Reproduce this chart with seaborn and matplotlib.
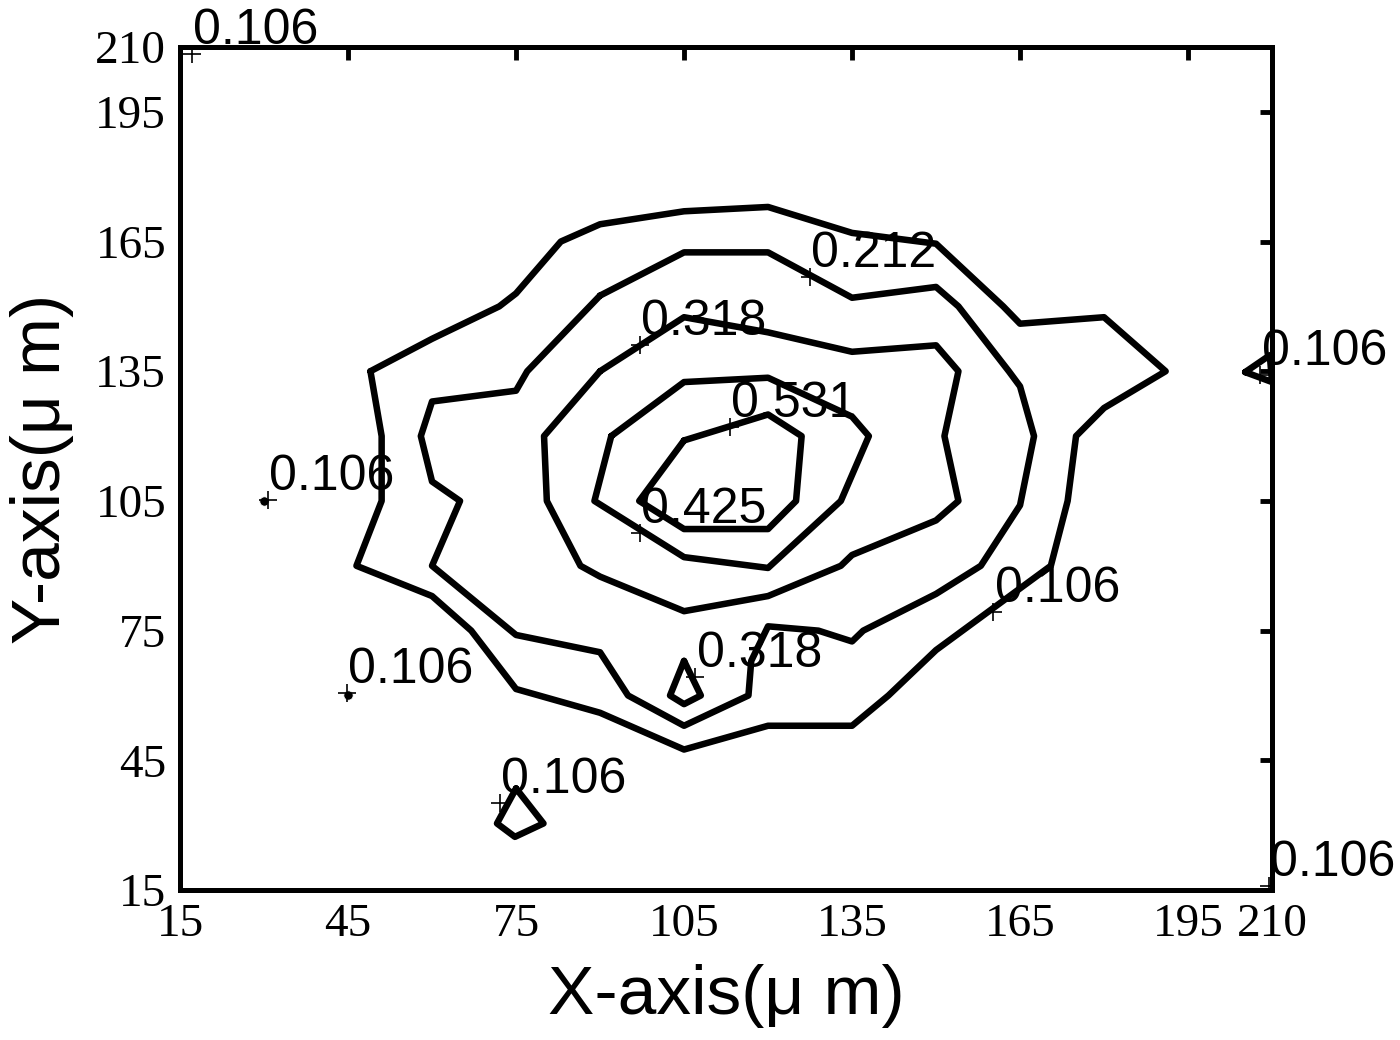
import numpy as np
import pandas as pd
import matplotlib
matplotlib.use("Agg")
import matplotlib.pyplot as plt
import seaborn as sns

# contour lines (data units, um)
# 0.106 - outer ring
outer_x = [49, 60, 72, 75, 83, 90, 105, 120, 135, 150, 162, 165, 180, 191, 180, 175,
           173.5, 170.5, 150, 141.5, 135, 120, 105, 90, 75, 67, 60, 46.5, 51, 51]
outer_y = [135, 142.5, 150, 153, 165, 169, 172, 173, 167, 164.5, 150, 146, 147.5, 135, 126.5, 120,
           105, 90, 70.5, 60, 53, 53, 47.5, 56, 61.5, 75, 83, 90, 105, 120]
# 0.212
c212_x = [90, 105, 120, 135, 150, 154, 163, 165, 167.5, 165, 158, 150, 137, 135, 129, 120,
          117, 116.5, 105, 95, 90, 75, 60, 65, 60, 58, 60, 75, 77]
c212_y = [152.5, 162.5, 162.5, 152, 154.5, 150, 135, 131.5, 120, 104, 90, 83.5, 75, 72.5, 75, 76,
          68, 60, 53, 60, 70, 74, 90, 105, 109.5, 120, 128, 130.5, 135]
# 0.318
c318_x = [90, 105, 120, 135, 150, 154, 151.5, 154, 150, 135, 133, 120, 105, 90, 86.5, 80.5, 80]
c318_y = [135, 147.5, 144, 139.5, 141, 135, 120, 105, 100.5, 92.5, 90, 83, 79.5, 87.5, 90, 105, 120]
# 0.425
c425_x = [92, 105, 120, 135, 138, 133, 120, 105, 89]
c425_y = [120, 132.5, 133.5, 124.5, 120, 105, 89.5, 92, 105]
# 0.531
c531_x = [105, 120, 126, 125, 120, 105, 97]
c531_y = [119, 125, 120, 105, 98.5, 98.5, 105]
# small islands
isl_low_x = [75, 71.6, 74.8, 79.9]          # 0.106
isl_low_y = [38.5, 30.4, 27.3, 30.4]
isl_mid_x = [105, 102.5, 105, 108]          # 0.318
isl_mid_y = [68, 60, 58, 60]
isl_right_x = [205.2, 209.6, 210]           # 0.106 at right edge
isl_right_y = [134.8, 138.7, 132.5]

# tiny spots (0.106)
dot_x = [30, 45]
dot_y = [105, 60]

# contour labels
lab_x = [127.5, 97.1, 113.2, 97.1, 160.2, 107, 72.1, 44.8, 30.7, 207.9, 17.1, 209.4]
lab_y = [156.8, 141.1, 122.1, 97.6, 79.3, 64.3, 35.1, 60.6, 105.2, 134.1, 208.4, 15.9]
lab_txt = ["0.212", "0.318", "0.531", "0.425", "0.106", "0.318", "0.106", "0.106",
           "0.106", "0.106", "0.106", "0.106"]

ticks = [15, 45, 75, 105, 135, 165, 195, 210]

sns.set_style("white", {"axes.edgecolor": "black", "text.color": "black",
                        "xtick.color": "black", "ytick.color": "black",
                        "axes.labelcolor": "black"})
plt.rcParams["font.family"] = ["Liberation Sans", "DejaVu Sans"]

rings = [(outer_x, outer_y), (c212_x, c212_y), (c318_x, c318_y), (c425_x, c425_y),
         (c531_x, c531_y), (isl_low_x, isl_low_y), (isl_mid_x, isl_mid_y),
         (isl_right_x, isl_right_y)]
frames = []
for i, (xs, ys) in enumerate(rings):
    frames.append(pd.DataFrame({"x": list(xs) + [xs[0]], "y": list(ys) + [ys[0]], "line": i}))
df = pd.concat(frames, ignore_index=True)

fig = plt.figure(figsize=(14, 10.4), dpi=100)
ax = fig.add_axes([0.1286, 0.1442, 0.78, 0.8106])

sns.lineplot(data=df, x="x", y="y", units="line", estimator=None, sort=False,
             color="black", lw=4.7, legend=False, ax=ax)

# spots and label markers
sns.scatterplot(x=dot_x, y=dot_y, marker="o", s=45, color="black", ax=ax)
sns.scatterplot(x=lab_x, y=lab_y, marker="+", s=150, color="black", linewidth=1.2, ax=ax)

for x, y, t in zip(lab_x, lab_y, lab_txt):
    ax.annotate(t, (x, y), xytext=(1, 0), textcoords="offset points", fontsize=36,
                ha="left", va="bottom", annotation_clip=False)

ax.set_xlim(15, 210)
ax.set_ylim(15, 210)
ax.set_xticks(ticks)
ax.set_yticks(ticks)
ax.tick_params(direction="in", length=9, width=3.5, top=True, right=True,
               labelsize=34, pad=10)
for lab in ax.get_xticklabels() + ax.get_yticklabels():
    lab.set_fontfamily("Liberation Serif")
for s in ax.spines.values():
    s.set_linewidth(3.6)
    s.set_color("black")

ax.set_xlabel("X-axis(μ m)", fontsize=50, labelpad=13)
ax.set_ylabel("Y-axis(μ m)", fontsize=50, labelpad=15)

fig.savefig("out.png", dpi=100)
